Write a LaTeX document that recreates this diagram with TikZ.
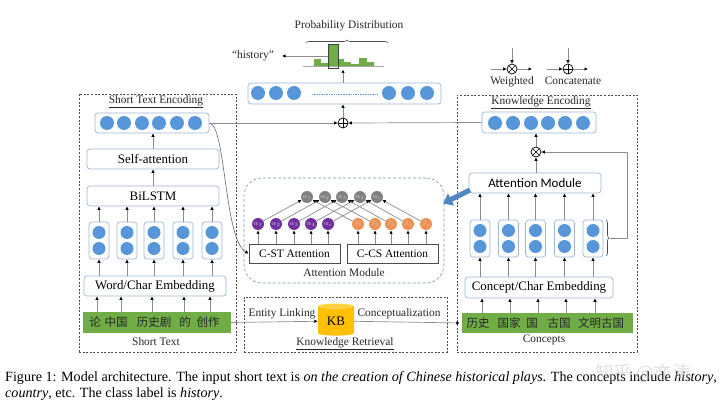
\documentclass[tikz,border=0pt]{standalone}
\usepackage{fontspec}
\usepackage{xcolor}
\setmainfont{Liberation Serif}
\newfontfamily\cjk{Noto Sans CJK SC}
\newfontfamily\carl{Carlito}
\usepackage{tikz}
\usetikzlibrary{arrows.meta,shapes.geometric,decorations.pathreplacing}
\definecolor{dotblue}{HTML}{5796D8}
\definecolor{boxblue}{HTML}{9DB7D3}
\definecolor{leafgreen}{HTML}{70AD47}
\definecolor{kbgold}{HTML}{FFC000}
\definecolor{attnpurple}{HTML}{7030A0}
\definecolor{attnorange}{HTML}{ED7D31}
\tikzset{
    dot/.style={circle,fill=dotblue,minimum size=14pt,inner sep=0pt},
    smalldot/.style={circle,fill=dotblue,minimum size=13pt,inner sep=0pt},
    blockbox/.style={draw=boxblue,line width=.7pt,rounded corners=3pt,fill=white,inner sep=0pt,font=\fontsize{12.9}{14}\selectfont},
    greenbar/.style={fill=leafgreen,inner sep=0pt},
    word/.style={inner sep=0pt,font=\cjk\fontsize{11.5}{13}\selectfont,text=black!85},
    lbl/.style={inner sep=0pt,font=\fontsize{11.4}{13}\selectfont,text=black!85},
    dashbox/.style={draw=black!70,line width=.6pt,dash pattern=on 2pt off 1.6pt},
    arr/.style={draw=black!45,line width=.7pt,-{Latex[black,length=3.5pt,width=3.5pt]}},
    attbox/.style={draw=black!70,line width=.7pt,inner sep=0pt,minimum width=91pt,minimum height=19pt,font=\fontsize{11.4}{13}\selectfont},
    wt/.style={circle,minimum size=12pt,inner sep=0pt,text=white!80!black,font=\fontsize{7}{8}\selectfont},
    plusn/.style={circle,draw=black,line width=.7pt,minimum size=10pt,inner sep=0pt,path picture={
        \draw[line width=.6pt] (path picture bounding box.north) -- (path picture bounding box.south);
        \draw[line width=.6pt] (path picture bounding box.west) -- (path picture bounding box.east);}},
    timesn/.style={circle,draw=black,line width=.7pt,minimum size=10pt,inner sep=0pt,path picture={
        \draw[line width=.6pt] (path picture bounding box.north west) -- (path picture bounding box.south east);
        \draw[line width=.6pt] (path picture bounding box.north east) -- (path picture bounding box.south west);}}
}
\newcommand{\wordvec}[3]{
    \node[blockbox,minimum width=20pt,minimum height=#3pt] (#1) at (#2) {};
    \node[smalldot,yshift=8pt] at (#1) {};
    \node[smalldot,yshift=-8pt] at (#1) {};
}

\begin{document}
\begin{tikzpicture}[x=1pt,y=-1pt]
\useasboundingbox (0,0) rectangle (720,406);
% dashed frames
\node[dashbox,minimum width=157pt,minimum height=258pt,inner sep=0pt] (leftframe) at (157.5,223) {};
\node[dashbox,minimum width=180pt,minimum height=257pt,inner sep=0pt] (rightframe) at (547,223.5) {};
\node[dashbox,minimum width=203pt,minimum height=55pt,inner sep=0pt] (kbframe) at (345.5,324.5) {};
\node[draw=boxblue!80!black,line width=.6pt,dash pattern=on 3pt off 2pt,rounded corners=18pt,minimum width=200pt,minimum height=105pt,inner sep=0pt] (attmod) at (344,230.5) {};
% short text side
\node[lbl] (stenc) at (156,102) {\underline{Short Text Encoding}};
\node[blockbox,minimum width=114pt,minimum height=20pt] (stvec) at (152,123) {};
\foreach \x in {107,124,142,159,177,195}{
    \node[dot] at (\x,123) {};
}
\node[blockbox,minimum width=132pt,minimum height=20pt] (selfatt) at (153,159) {Self-attention};
\node[blockbox,minimum width=132pt,minimum height=20pt] (bilstm) at (153,196) {BiLSTM};
\foreach \i/\x in {1/99,2/127,3/154,4/183,5/212}{
    \wordvec{sv\i}{\x,240.5}{37}
}
\node[blockbox,minimum width=142pt,minimum height=20pt] (wordemb) at (155,286) {Word/Char Embedding};
\node[greenbar,minimum width=148pt,minimum height=21pt] (shorttext) at (157,322.5) {};
\foreach \i/\x/\t in {1/95/论,2/116/中国,3/154/历史剧,4/185/的,5/208/创作}{
    \node[word] (sw\i) at (\x,322.5) {\t};
}
\node[lbl] (stlabel) at (156,342) {Short Text};
\foreach \x in {97,121,152,184,210}{
    \draw[arr] (\x,0 |- shorttext.north) -- (\x,0 |- wordemb.south);
}
\foreach \i in {1,...,5}{
    \draw[arr] (sv\i.north) -- (sv\i.north |- bilstm.south);
    \draw[arr] (sv\i.south |- wordemb.north) -- (sv\i.south);
}
\draw[arr] (bilstm.north) -- (selfatt.south);
\draw[arr] (selfatt.north) -- (selfatt.north |- stvec.south);
% knowledge side
\node[lbl] (kenc) at (541,103) {\underline{Knowledge Encoding}};
\node[blockbox,minimum width=114pt,minimum height=21pt] (kvec) at (539,122.5) {};
\foreach \x in {495,513,531,548,565,583}{
    \node[dot] at (\x,123) {};
}
\node[timesn] (kmul) at (536,152) {};
\node[blockbox,minimum width=132pt,minimum height=20pt,font=\carl\fontsize{13}{15}\selectfont] (kattn) at (535,183) {Attention Module};
\foreach \i/\x in {1/480,2/508.5,3/535.5,4/564.5,5/593}{
    \wordvec{cv\i}{\x,238.5}{37}
}
\node[blockbox,minimum width=148pt,minimum height=21pt] (conemb) at (539,287.5) {Concept/Char Embedding};
\node[greenbar,minimum width=171pt,minimum height=20pt] (concepts) at (547.5,323) {};
\foreach \i/\x/\t in {1/478/历史,2/509/国家,3/532/国,4/559/古国,5/601/文明古国}{
    \node[word] (cw\i) at (\x,323) {\t};
}
\node[lbl] (conlabel) at (544,340) {Concepts};
\foreach \x in {482,510,538,566,595}{
    \draw[arr] (\x,0 |- concepts.north) -- (\x,0 |- conemb.south);
}
\foreach \i in {1,...,5}{
    \draw[arr] (cv\i.north) -- (cv\i.north |- kattn.south);
    \draw[arr] (cv\i.south |- conemb.north) -- (cv\i.south);
}
\draw[arr] (kattn.north -| kmul) -- (kmul.south);
\draw[arr] (kmul.north) -- (kmul.north |- kvec.south);
\draw[black!70,line width=.6pt,decorate,decoration={brace,amplitude=3pt}] (606,220) -- (606,256);
\coordinate (brk) at (610,238);
\draw[arr] (brk) -- ++(17,0) |- (kmul.east);
% attention module
\node[attbox] (cst) at (294.5,253.5) {C-ST Attention};
\node[attbox] (ccs) at (392.5,253.5) {C-CS Attention};
\node[lbl] (attlabel) at (344,273) {Attention Module};
\foreach \i/\x/\t in {1/307/1,2/325/2,3/342/3,4/360/4,5/377/c}{
    \node[wt,fill=black!50] (ga\i) at (\x,197) {$\alpha_{\t}$};
}
\foreach \i/\x/\t in {1/258/1,2/276/2,3/294/3,4/311/4,5/328/c}{
    \node[wt,fill=attnpurple] (pa\i) at (\x,224) {$\alpha_{\t}$};
    \draw[arr] (pa\i |- cst.north) -- (pa\i.south);
    \draw[arr] (pa\i) -- (ga\i);
}
\foreach \i/\x/\t in {1/358/1,2/375/2,3/391/3,4/408/4,5/426/c}{
    \node[wt,fill=attnorange!85!white] (oa\i) at (\x,224) {$\beta_{\t}$};
    \draw[arr] (oa\i |- ccs.north) -- (oa\i.south);
    \draw[arr] (oa\i) -- (ga\i);
}
\draw[draw=black!60,line width=.6pt,-{Latex[black,length=3.5pt,width=3.5pt]}] (stvec.east) .. controls (226,125) and (224,240) .. (cst.west);
\coordinate (bigtail) at (470,190);
\coordinate (bigtip) at (443,203.5);
\draw[draw=dotblue!90!black,line width=5pt,-{Triangle[length=9pt,width=13pt]}] (bigtail) -- (bigtip);
% knowledge retrieval
\node[cylinder,shape border rotate=90,aspect=.28,minimum width=36pt,minimum height=32pt,inner sep=0pt,
    cylinder uses custom fill,cylinder body fill=kbgold,cylinder end fill=kbgold!75!white,
    font=\fontsize{13}{15}\selectfont] (kb) at (336,321) {\raisebox{-2pt}{KB}};
\node[lbl] (entity) at (282,314) {Entity Linking};
\node[lbl] (conceptual) at (399,314) {Conceptualization};
\node[lbl] (kretr) at (345,344) {\underline{Knowledge Retrieval}};
\draw[arr] (shorttext.east) -- (kb);
\draw[arr,shorten >=2pt] (kb) -- (concepts.west);
% output
\node[plusn] (mix) at (343,123) {};
\draw[arr] (stvec.east) -- (mix.west);
\draw[arr] (kvec.west) -- (mix.east);
\node[blockbox,minimum width=193pt,minimum height=21pt] (bigvec) at (344.5,93.5) {};
\foreach \x in {258,276,294,389,408,427}{
    \node[dot] at (\x,93) {};
}
\draw[dotblue,line width=.7pt,densely dotted] (312,94) -- (377,94);
\draw[arr] (mix.north) -- (mix.north |- bigvec.south);
\foreach \x/\w/\t in {314/7/59,321/7/63,328/10/45,338/6/59,344/7/62,351/8/64,359/8/58,367/7/62}{
    \fill[leafgreen] (\x,66) rectangle ++(\w,\t-66);
}
\draw[black!35,line width=.8pt] (303,66) -- (384,66);
\node[draw=black!75,line width=.7pt,minimum width=10pt,minimum height=24pt,inner sep=0pt] (probbox) at (333,56) {};
\node[lbl] (history) at (253,56) {``history''};
\draw[arr,shorten >=8pt] (probbox.west) -- (history.east);
\coordinate (distbase) at (343,69.5);
\draw[arr] (bigvec.north -| distbase) -- (distbase);
\draw[black!70,line width=.6pt,decorate,decoration={brace,amplitude=3pt}] (306,43) -- (388,43);
\node[lbl] (probdist) at (349,26) {Probability Distribution};
% legend
\node[timesn] (lmul) at (512,69) {};
\node[plusn] (lplus) at (568,69) {};
\node[lbl] (lweighted) at (512,82) {Weighted};
\node[lbl] (lconcat) at (573,81) {Concatenate};
\foreach \n/\x in {lmul/512,lplus/568}{
    \coordinate (t\n) at (\x,48);
    \coordinate (l\n) at (\x-21,69);
    \coordinate (r\n) at (\x+20,69);
    \draw[arr] (t\n) -- (\n.north);
    \draw[arr] (l\n) -- (\n.west);
    \draw[arr] (\n.east) -- (r\n);
}
% caption
\node[anchor=west,inner sep=0pt,font=\fontsize{14.1}{16}\selectfont] (capa) at (5,378) {Figure 1: Model architecture. The input short text is \textit{on the creation of Chinese historical plays}. The concepts include \textit{history},};
\node[anchor=west,inner sep=0pt,font=\fontsize{14.1}{16}\selectfont] (capb) at (5,394) {\textit{country}, etc. The class label is \textit{history}.};
\node[inner sep=0pt,opacity=.45,text=black!25,font=\cjk\fontsize{18.5}{21}\selectfont] (watermark) at (643,373) {知乎 @亦涛};
\end{tikzpicture}
\end{document}
